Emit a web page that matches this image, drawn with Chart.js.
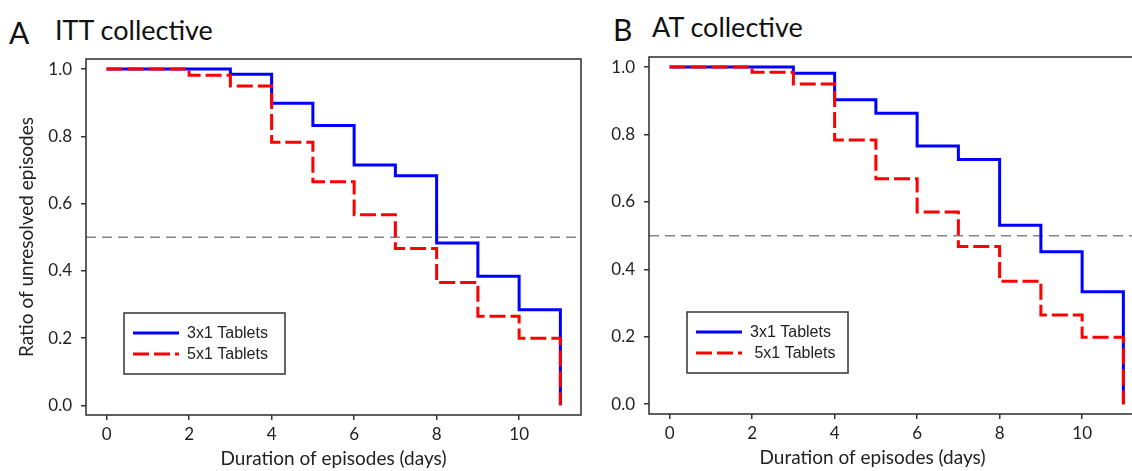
<!DOCTYPE html>
<html>
<head>
<meta charset="utf-8">
<script src="https://cdn.jsdelivr.net/npm/chart.js@4.4.0/dist/chart.umd.min.js"></script>
<style>
  html, body { margin: 0; padding: 0; background: #fff; }
  body { width: 1132px; height: 471px; overflow: hidden; position: relative; font-family: Lato, sans-serif; color: #111; }
  .panel { position: absolute; top: 0; }
  .letter { position: absolute; font-size: 30px; line-height: 30px; white-space: nowrap; }
  .heading { position: absolute; font-size: 27px; line-height: 27px; white-space: nowrap; }
</style>
</head>
<body>
<div class="letter" style="left:9px; top:17px;">A</div>
<div class="heading" style="left:55px; top:16px;">ITT collective</div>
<div class="letter" style="left:613px; top:14px;">B</div>
<div class="heading" style="left:652px; top:13px;">AT collective</div>

<canvas id="chartITT" class="panel" style="left:0px;" width="600" height="471"></canvas>
<canvas id="chartAT" class="panel" style="left:590px;" width="575" height="471"></canvas>

<script>
// days since start, one value per day (ratio after that day's drop)
const days = [0, 1, 2, 3, 4, 5, 6, 7, 8, 9, 10, 11];
const ittTablets3x1 = [1.0, 1.0, 1.0, 0.985, 0.898, 0.832, 0.715, 0.683, 0.483, 0.384, 0.284, 0.0];
const ittTablets5x1 = [1.0, 1.0, 0.982, 0.950, 0.782, 0.665, 0.567, 0.466, 0.365, 0.265, 0.199, 0.0];
const atTablets3x1 = [1.0, 1.0, 1.0, 0.982, 0.903, 0.863, 0.766, 0.726, 0.531, 0.452, 0.334, 0.0];
const atTablets5x1 = [1.0, 1.0, 0.985, 0.950, 0.784, 0.669, 0.570, 0.468, 0.365, 0.265, 0.199, 0.0];
const xTicks = [0, 2, 4, 6, 8, 10];
const yTicks = [0.0, 0.2, 0.4, 0.6, 0.8, 1.0];
const medianLevel = 0.5;
const xTitle = 'Duration of episodes (days)';
const yTitle = 'Ratio of unresolved episodes';

const toPoints = (vals) => days.map((d, i) => ({x: d, y: vals[i]}));

// dashed 0.5 line, frame around the plot, x title and the boxed legend
const framePlugin = {
    id: 'frame',
    beforeDatasetsDraw(chart) {
        const {ctx, chartArea: a, scales} = chart;
        const yy = scales.y.getPixelForValue(medianLevel);
        ctx.save();
        ctx.strokeStyle = '#858585';
        ctx.lineWidth = 1.5;
        ctx.setLineDash([10, 6]);
        ctx.beginPath();
        ctx.moveTo(a.left, yy);
        ctx.lineTo(a.right, yy);
        ctx.stroke();
        ctx.restore();
    },
    afterDraw(chart, args, opts) {
        const {ctx, chartArea: a} = chart;
        ctx.save();
        ctx.strokeStyle = '#2b2b2b';
        ctx.lineWidth = 1.5;
        ctx.strokeRect(a.left, a.top, a.right - a.left, a.bottom - a.top);

        ctx.fillStyle = '#222';
        ctx.font = '19px Lato, sans-serif';
        ctx.textAlign = 'center';
        ctx.textBaseline = 'middle';
        ctx.fillText(xTitle, (a.left + a.right) / 2 + opts.titleShift, a.bottom + 44);

        // legend
        const w = 161, h = 61;
        const lx = a.left + opts.dx;
        const ly = a.bottom - opts.dy - h;
        ctx.fillStyle = '#fff';
        ctx.fillRect(lx, ly, w, h);
        ctx.strokeStyle = '#333';
        ctx.lineWidth = 1.5;
        ctx.strokeRect(lx, ly, w, h);
        ctx.textAlign = 'left';
        ctx.font = '16px "Liberation Sans", Arial, sans-serif';
        [0, 1].forEach((row) => {
            const ds = chart.data.datasets.find(d => d.legendRow === row);
            const ry = ly + 20 + row * 21;
            ctx.strokeStyle = ds.borderColor;
            ctx.lineWidth = 3;
            ctx.setLineDash(ds.borderDash || []);
            ctx.beginPath();
            ctx.moveTo(lx + 9, ry);
            ctx.lineTo(lx + 55, ry);
            ctx.stroke();
            ctx.setLineDash([]);
            ctx.fillStyle = '#222';
            ctx.fillText(ds.label, lx + 63, ry + 1);
        });
        ctx.restore();
    }
};

function makePanel(canvasId, blueVals, redVals, redLabel, cfg) {
    const ctx = document.getElementById(canvasId).getContext('2d');
    return new Chart(ctx, {
        type: 'line',
        data: {
            datasets: [
                {
                    label: '3x1 Tablets',
                    legendRow: 0,
                    data: toPoints(blueVals),
                    borderColor: '#0000ff',
                    borderWidth: 3,
                    stepped: 'before',
                    pointRadius: 0,
                    borderJoinStyle: 'miter',
                    order: 2
                },
                {
                    label: redLabel,
                    legendRow: 1,
                    data: toPoints(redVals),
                    borderColor: '#ff0000',
                    borderWidth: 3,
                    borderDash: [16, 5],
                    stepped: 'before',
                    pointRadius: 0,
                    borderJoinStyle: 'miter',
                    order: 1
                }
            ]
        },
        options: {
            responsive: false,
            animation: false,
            layout: {padding: {top: cfg.top, right: cfg.right, left: 0, bottom: 0}},
            plugins: {
                legend: {display: false},
                tooltip: {enabled: false},
                frame: {dx: 38, dy: 41, titleShift: cfg.titleShift}
            },
            scales: {
                x: {
                    type: 'linear',
                    min: -0.5,
                    max: 11.5,
                    afterBuildTicks: (s) => { s.ticks = xTicks.map(v => ({value: v})); },
                    afterFit: (s) => { s.height = cfg.xHeight; },
                    grid: {display: true, drawOnChartArea: false, tickLength: 5, color: '#333', lineWidth: 1.5},
                    border: {display: false},
                    ticks: {
                        font: {family: 'Lato', size: 17},
                        color: '#222',
                        padding: 4,
                        maxRotation: 0,
                        callback: (v) => String(v)
                    }
                },
                y: {
                    type: 'linear',
                    min: -0.029,
                    max: 1.03,
                    afterBuildTicks: (s) => { s.ticks = yTicks.map(v => ({value: v})); },
                    afterFit: (s) => { s.width = cfg.yWidth; },
                    grid: {display: true, drawOnChartArea: false, tickLength: 5, color: '#333', lineWidth: 1.5},
                    border: {display: false},
                    ticks: {
                        font: {family: 'Lato', size: 17},
                        color: '#222',
                        padding: 9,
                        callback: (v) => v.toFixed(1)
                    },
                    title: {
                        display: cfg.yTitle,
                        text: yTitle,
                        font: {family: 'Lato', size: 19},
                        color: '#222',
                        padding: {top: 15, bottom: 0}
                    }
                }
            }
        },
        plugins: [framePlugin]
    });
}

makePanel('chartITT', ittTablets3x1, ittTablets5x1, '5x1 Tablets',
    {top: 59, right: 19, yWidth: 86, xHeight: 56, yTitle: true, titleShift: 0});
makePanel('chartAT', atTablets3x1, atTablets5x1, ' 5x1 Tablets',
    {top: 57, right: 21, yWidth: 59, xHeight: 57, yTitle: false, titleShift: -24});
</script>
</body>
</html>
